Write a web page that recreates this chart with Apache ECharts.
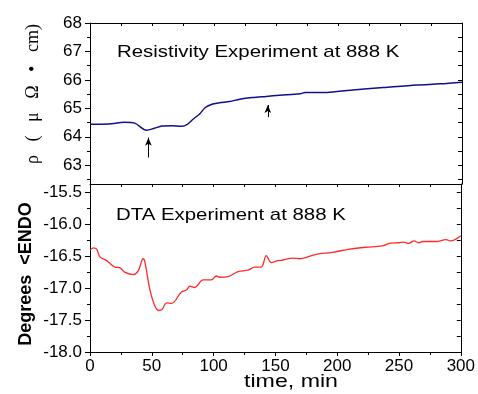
<!DOCTYPE html>
<html>
<head>
<meta charset="utf-8">
<script src="https://cdn.jsdelivr.net/npm/echarts@6/dist/echarts.min.js"></script>
<style>
  html, body { margin: 0; padding: 0; background: #fff; }
  #chart { width: 478px; height: 394px; }
</style>
</head>
<body>
<div id="chart"></div>
<script>
// resistivity run (top panel)
const resT = [0, 15, 28, 36, 45.7, 52, 58, 66, 74, 78.5, 82.6, 89, 93, 99, 104.5, 112.6, 120.7, 131, 142, 153, 169.5, 173.5, 191, 210, 236.7, 263.7, 282.5, 300];
const resV = [64.44, 64.45, 64.51, 64.48, 64.23, 64.30, 64.38, 64.39, 64.37, 64.44, 64.60, 64.83, 65.03, 65.15, 65.20, 65.24, 65.32, 65.38, 65.42, 65.46, 65.51, 65.56, 65.56, 65.64, 65.73, 65.82, 65.86, 65.92];
// DTA run (bottom panel)
const dtaT = [0, 2.7, 5.4, 8, 13.5, 20, 24, 28, 35, 39, 43, 44.4, 48.4, 52.5, 55.7, 58.4, 61.9, 65.9, 74, 78, 80.7, 84.7, 91.5, 98.2, 102.3, 105, 111.7, 119.8, 127.9, 133.2, 138.6, 142.6, 146.7, 152, 156, 164, 169.5, 183, 196, 209.8, 223, 236.7, 242, 250, 254, 258, 262, 266, 269, 280, 288, 291.7, 300];
const dtaV = [-16.41, -16.37, -16.39, -16.51, -16.57, -16.67, -16.68, -16.75, -16.79, -16.73, -16.54, -16.59, -17.02, -17.28, -17.35, -17.33, -17.23, -17.24, -17.06, -17.03, -16.97, -16.99, -16.87, -16.87, -16.81, -16.83, -16.82, -16.74, -16.72, -16.67, -16.67, -16.49, -16.60, -16.57, -16.56, -16.53, -16.54, -16.47, -16.44, -16.39, -16.36, -16.34, -16.30, -16.29, -16.28, -16.30, -16.26, -16.29, -16.27, -16.27, -16.24, -16.26, -16.18];
// arrows marking events on the resistivity curve
const arrowT = [47.1, 143.4];
const arrowFrom = [63.27, 64.69];
const arrowTo = [63.97, 65.12];
// tick labels
const resTicks = [63, 64, 65, 66, 67, 68];
const resMinor = [62.5, 63.5, 64.5, 65.5, 66.5, 67.5];
const dtaTicks = [-18.0, -17.5, -17.0, -16.5, -16.0, -15.5];
const dtaMinor = [-17.75, -17.25, -16.75, -16.25, -15.75];
const timeMinor = [25, 50, 75, 100, 125, 150, 175, 200, 225, 250, 275];

const resRange = [62.34, 68];
const dtaRange = [-18, -15.37];
const lbl = { color: '#000', fontSize: 17, fontFamily: 'Liberation Sans, Arial' };
const line = { show: true, lineStyle: { color: '#000', width: 1 } };

const chart = echarts.init(document.getElementById('chart'));

function sideY(grid, range, vals, pos, len, inside) {
    return {
        type: 'value', gridIndex: grid, position: pos, min: range[0], max: range[1],
        axisLine: pos === 'right' ? line : { show: false },
        axisTick: { show: true, inside: inside, length: len, customValues: vals, lineStyle: { color: '#000' } },
        axisLabel: { show: false }, splitLine: { show: false }
    };
}

const option = {
    animation: false,
    grid: [
        { left: 90, top: 23, width: 372, height: 161 },
        { left: 90, top: 184, width: 372, height: 168 }
    ],
    xAxis: [
        { type: 'value', gridIndex: 0, min: 0, max: 300, position: 'bottom', axisLine: line, axisTick: { show: false }, axisLabel: { show: false }, splitLine: { show: false } },
        { type: 'value', gridIndex: 0, min: 0, max: 300, position: 'top', axisLine: line, axisTick: { show: true, inside: true, length: 3, customValues: timeMinor, lineStyle: { color: '#000' } }, axisLabel: { show: false }, splitLine: { show: false } },
        { type: 'value', gridIndex: 1, min: 0, max: 300, interval: 50, position: 'bottom', axisLine: line,
          axisTick: { show: true, length: 4, lineStyle: { color: '#000' } },
          minorTick: { show: true, splitNumber: 2, length: 3, lineStyle: { color: '#000' } },
          axisLabel: Object.assign({ margin: 6 }, lbl), splitLine: { show: false } },
        { type: 'value', gridIndex: 1, min: 0, max: 300, position: 'top', axisLine: { show: false }, axisTick: { show: true, inside: true, length: 3, customValues: timeMinor, lineStyle: { color: '#000' } }, axisLabel: { show: false }, splitLine: { show: false } }
    ],
    yAxis: [
        { type: 'value', gridIndex: 0, position: 'left', min: resRange[0], max: resRange[1], axisLine: line,
          axisTick: { show: true, length: 5, customValues: resTicks, lineStyle: { color: '#000' } },
          axisLabel: Object.assign({ margin: 8, customValues: resTicks }, lbl), splitLine: { show: false } },
        sideY(0, resRange, resMinor, 'left', 3, false),
        sideY(0, resRange, resTicks.concat(resMinor), 'right', 4, true),
        { type: 'value', gridIndex: 1, position: 'left', min: dtaRange[0], max: dtaRange[1], axisLine: line,
          axisTick: { show: true, length: 5, customValues: dtaTicks, lineStyle: { color: '#000' } },
          axisLabel: Object.assign({ margin: 8, customValues: dtaTicks, formatter: v => v.toFixed(1) }, lbl), splitLine: { show: false } },
        sideY(1, dtaRange, dtaMinor, 'left', 3, false),
        sideY(1, dtaRange, dtaTicks.concat(dtaMinor), 'right', 4, true)
    ],
    series: [
        {
            type: 'line', xAxisIndex: 0, yAxisIndex: 0, showSymbol: false, smooth: 0.3,
            data: resT.map((t, i) => [t, resV[i]]),
            lineStyle: { color: '#10108a', width: 1.5 },
            markLine: {
                silent: true, symbol: ['none', 'arrow'], symbolSize: [5, 8],
                label: { show: false },
                lineStyle: { color: '#000', width: 1, type: 'solid' },
                data: arrowT.map((t, i) => [{ coord: [t, arrowFrom[i]] }, { coord: [t, arrowTo[i]] }])
            }
        },
        {
            type: 'line', xAxisIndex: 2, yAxisIndex: 3, showSymbol: false, smooth: 0.35,
            data: dtaT.map((t, i) => [t, dtaV[i]]),
            lineStyle: { color: '#ff2a2a', width: 1.3 }
        }
    ],
    graphic: [
        { type: 'text', x: 117, y: 52, scaleX: 1.2, style: { text: 'Resistivity Experiment at 888 K', font: '17px "Liberation Sans", Arial', fill: '#000', textAlign: 'left', textVerticalAlign: 'middle' } },
        { type: 'text', x: 116, y: 215, scaleX: 1.2, style: { text: 'DTA Experiment at 888 K', font: '17px "Liberation Sans", Arial', fill: '#000', textAlign: 'left', textVerticalAlign: 'middle' } },
        { type: 'text', x: 291, y: 382, scaleX: 1.22, style: { text: 'time, min', font: '19px "Liberation Sans", Arial', fill: '#000', textAlign: 'center', textVerticalAlign: 'middle' } },
        { type: 'text', x: 33, y: 94, rotation: Math.PI / 2, style: { text: 'ρ   (   μ   Ω   •   cm)', font: '18px "Liberation Serif", serif', fill: '#000', textAlign: 'center', textVerticalAlign: 'middle' } },
        { type: 'text', x: 26, y: 274, rotation: Math.PI / 2, style: { text: 'Degrees  <ENDO', font: 'bold 18px "Liberation Sans", Arial', fill: '#000', textAlign: 'center', textVerticalAlign: 'middle' } }
    ]
};
chart.setOption(option);
</script>
</body>
</html>
